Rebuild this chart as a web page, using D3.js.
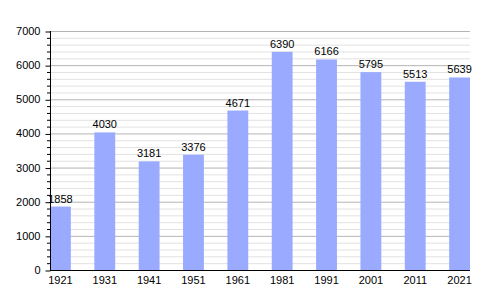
<!DOCTYPE html>
<html>
<head>
    <title>Population</title>
    <script src="https://cdn.jsdelivr.net/npm/d3@7"></script>
    <style>
        body { margin: 0; background: #fff; }
        text { font-family: "Liberation Sans", Arial, sans-serif; }
    </style>
</head>
<body>
    <svg width="500" height="300" id="mainsvg"></svg>
    <script>
        const years = ['1921', '1931', '1941', '1951', '1961', '1981', '1991', '2001', '2011', '2021'];
        const population = [1858, 4030, 3181, 3376, 4671, 6390, 6166, 5795, 5513, 5639];
        const yTicks = [0, 1000, 2000, 3000, 4000, 5000, 6000, 7000];

        const svg = d3.select('#mainsvg');
        const margin = { top: 31, right: 30, bottom: 30, left: 50 };
        const innerWidth = 500 - margin.left - margin.right;
        const innerHeight = 300 - margin.top - margin.bottom;
        const g = svg.append('g').attr('transform', `translate(${margin.left}, ${margin.top})`);

        const xScale = d3.scaleBand().domain(years).range([0, innerWidth])
            .paddingInner(0.53).paddingOuter(0);
        const yScale = d3.scaleLinear().domain([0, 7000]).range([innerHeight, 0]);

        // minor grid every 200
        const minor = d3.range(200, 7000, 200).filter(v => v % 1000 !== 0);
        g.selectAll('.minor').data(minor).join('line')
            .attr('x1', 0).attr('x2', innerWidth)
            .attr('y1', d => yScale(d) + 0.5).attr('y2', d => yScale(d) + 0.5)
            .attr('stroke', '#e2e2e2').attr('stroke-width', 1);
        g.selectAll('.major').data(yTicks.slice(1)).join('line')
            .attr('x1', 0).attr('x2', innerWidth)
            .attr('y1', d => yScale(d) + 0.5).attr('y2', d => yScale(d) + 0.5)
            .attr('stroke', '#b4b4b4').attr('stroke-width', 1);

        // bars
        g.selectAll('.bar').data(population).join('rect')
            .attr('x', (d, i) => xScale(years[i]))
            .attr('width', xScale.bandwidth())
            .attr('y', d => yScale(d))
            .attr('height', d => innerHeight - yScale(d))
            .attr('fill', '#99aaff');

        g.selectAll('.val').data(population).join('text')
            .attr('x', (d, i) => xScale(years[i]) + xScale.bandwidth() / 2)
            .attr('y', d => yScale(d) - 4)
            .attr('text-anchor', 'middle')
            .attr('font-size', 11)
            .attr('fill', '#000')
            .text(d => d);

        // y axis: minor ticks
        g.selectAll('.ytick').data(minor).join('line')
            .attr('x1', -3).attr('x2', 0)
            .attr('y1', d => yScale(d) + 0.5).attr('y2', d => yScale(d) + 0.5)
            .attr('stroke', '#000');
        const yAxis = d3.axisLeft(yScale).tickValues(yTicks).tickFormat(d3.format('d'))
            .tickSize(5).tickPadding(5);
        const yg = g.append('g').attr('transform', 'translate(0.5,0)').call(yAxis);
        yg.select('.domain').attr('d', `M0,0V${innerHeight}`);
        yg.selectAll('.tick line').attr('transform', 'translate(0,0.5)');
        yg.selectAll('.tick text').attr('font-size', 11).attr('fill', '#000')
            .attr('font-family', '"Liberation Sans", Arial, sans-serif');

        const xAxis = d3.axisBottom(xScale).tickSize(0).tickPadding(6);
        const xg = g.append('g').attr('transform', `translate(0, ${innerHeight + 0.5})`).call(xAxis);
        xg.select('.domain').attr('d', `M0,0H${innerWidth}`).attr('stroke', '#000');
        xg.selectAll('.tick text').attr('font-size', 11).attr('fill', '#000')
            .attr('font-family', '"Liberation Sans", Arial, sans-serif');
    </script>
</body>
</html>
